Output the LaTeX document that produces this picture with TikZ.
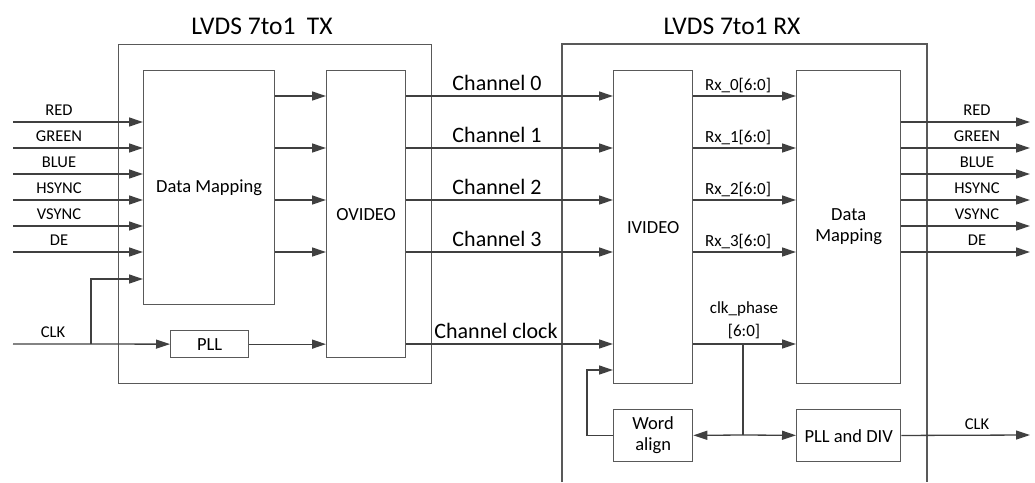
\documentclass[tikz,border=0pt]{standalone}
\usepackage{fontspec}
\setmainfont{Carlito}
\usepackage{xcolor}
\usetikzlibrary{arrows.meta, positioning, calc}

\definecolor{linegray}{RGB}{64,64,64}
\definecolor{boxgray}{RGB}{89,89,89}

\begin{document}
\begin{tikzpicture}[x=1pt, y=-1pt,
  box/.style={rectangle, draw=boxgray, line width=1.3pt, inner sep=0pt, align=center,
              font=\fontsize{18.5}{21}\selectfont, anchor=north west},
  frame/.style={draw=boxgray, line width=1.3pt},
  arr/.style={-{Triangle[length=14pt, width=9pt]}, draw=linegray, line width=1.3pt},
  wire/.style={draw=linegray, line width=1.3pt},
  sig/.style={font=\fontsize{16.5}{19}\selectfont, inner sep=0pt, anchor=base},
  rxsig/.style={font=\fontsize{17}{23}\selectfont, inner sep=0pt, anchor=base, align=center},
  chan/.style={font=\fontsize{22}{26}\selectfont, inner sep=0pt, anchor=base},
  title/.style={font=\fontsize{25.5}{30}\selectfont, inner sep=0pt}
]
\useasboundingbox (0,0) rectangle (1035,482);

% outer frames
\node[frame, rectangle, minimum width=313pt, minimum height=339pt, anchor=north west] (tx) at (118,44) {};
\draw[frame] (562,482) |- (927,44) -- (927,482);
\node[title] (txtitle) at (262,26) {LVDS 7to1\ \ TX};
\node[title] (rxtitle) at (732,26) {LVDS 7to1 RX};

% TX blocks
\node[box, minimum width=131pt, minimum height=234pt] (tdm)  at (143,70)  {Data Mapping};
\node[box, minimum width=79pt,  minimum height=287pt] (ovid) at (326,70)  {OVIDEO};
\node[box, minimum width=78pt,  minimum height=27pt]  (pll)  at (170,330) {PLL};

% RX blocks
\node[box, minimum width=79pt,  minimum height=313pt] (ivid)   at (613,70)  {IVIDEO};
\node[box, minimum width=104pt, minimum height=313pt] (rdm)    at (796,70)  {Data\\Mapping};
\node[box, minimum width=79pt,  minimum height=52pt]  (walign) at (613,409) {Word\\align};
\node[box, minimum width=104pt, minimum height=52pt]  (plldiv) at (796,409) {PLL and DIV};

% video inputs and outputs
\foreach \name [count=\i] in {RED,GREEN,BLUE,HSYNC,VSYNC,DE} {
  \pgfmathsetmacro{\yy}{96+26*\i}
  \coordinate (in\i)  at (13,\yy);
  \coordinate (out\i) at (1030,\yy);
  \draw[arr] (in\i) -- (tdm.west |- in\i);
  \draw[arr] (rdm.east |- out\i) -- (out\i);
  \node[sig] at (59,\yy-7) {\name};
  \node[sig] at (977,\yy-7) {\name};
}

% data channels
\foreach \y/\k in {96/0,148/1,200/2,252/3} {
  \draw[arr] (tdm.east |- 0,\y) -- (ovid.west |- 0,\y);
  \draw[arr] (ovid.east |- 0,\y) -- (ivid.west |- 0,\y);
  \draw[arr] (ivid.east |- 0,\y) -- (rdm.west |- 0,\y);
  \node[chan] at (497,\y-6) {Channel \k};
  \node[rxsig] at (738,\y-6) {Rx\_\k[6:0]};
}

% TX clock
\coordinate (clkin) at (13,344);
\coordinate (tclk) at (91,344);
\node[sig] at (53,337) {CLK};
\draw[arr] (clkin) -- (pll);
\draw[arr] (tclk) |- (tdm.west |- 0,279);
\draw[arr] (pll) -- (ovid.west |- pll);

% channel clock
\draw[arr] (ovid.east |- 0,344) -- (ivid.west |- 0,344);
\node[chan] at (496,338) {Channel clock};

% clock phase and RX clock
\coordinate (ph) at (743,344);
\coordinate (jn) at (743,435);
\coordinate (clkout) at (1030,435);
\draw[arr] (ivid.east |- ph) -- (rdm.west |- ph);
\node[rxsig] at (744,336) {clk\_phase\\{}[6:0]};
\draw[wire] (ph) -- (jn);
\draw[arr] (jn) -- (walign);
\draw[arr] (jn) -- (plldiv);
\draw[arr] (walign.west) -- ++(-26,0) |- (ivid.west |- 0,370);
\draw[arr] (plldiv) -- (clkout);
\node[sig] at (977,429) {CLK};
\end{tikzpicture}
\end{document}
